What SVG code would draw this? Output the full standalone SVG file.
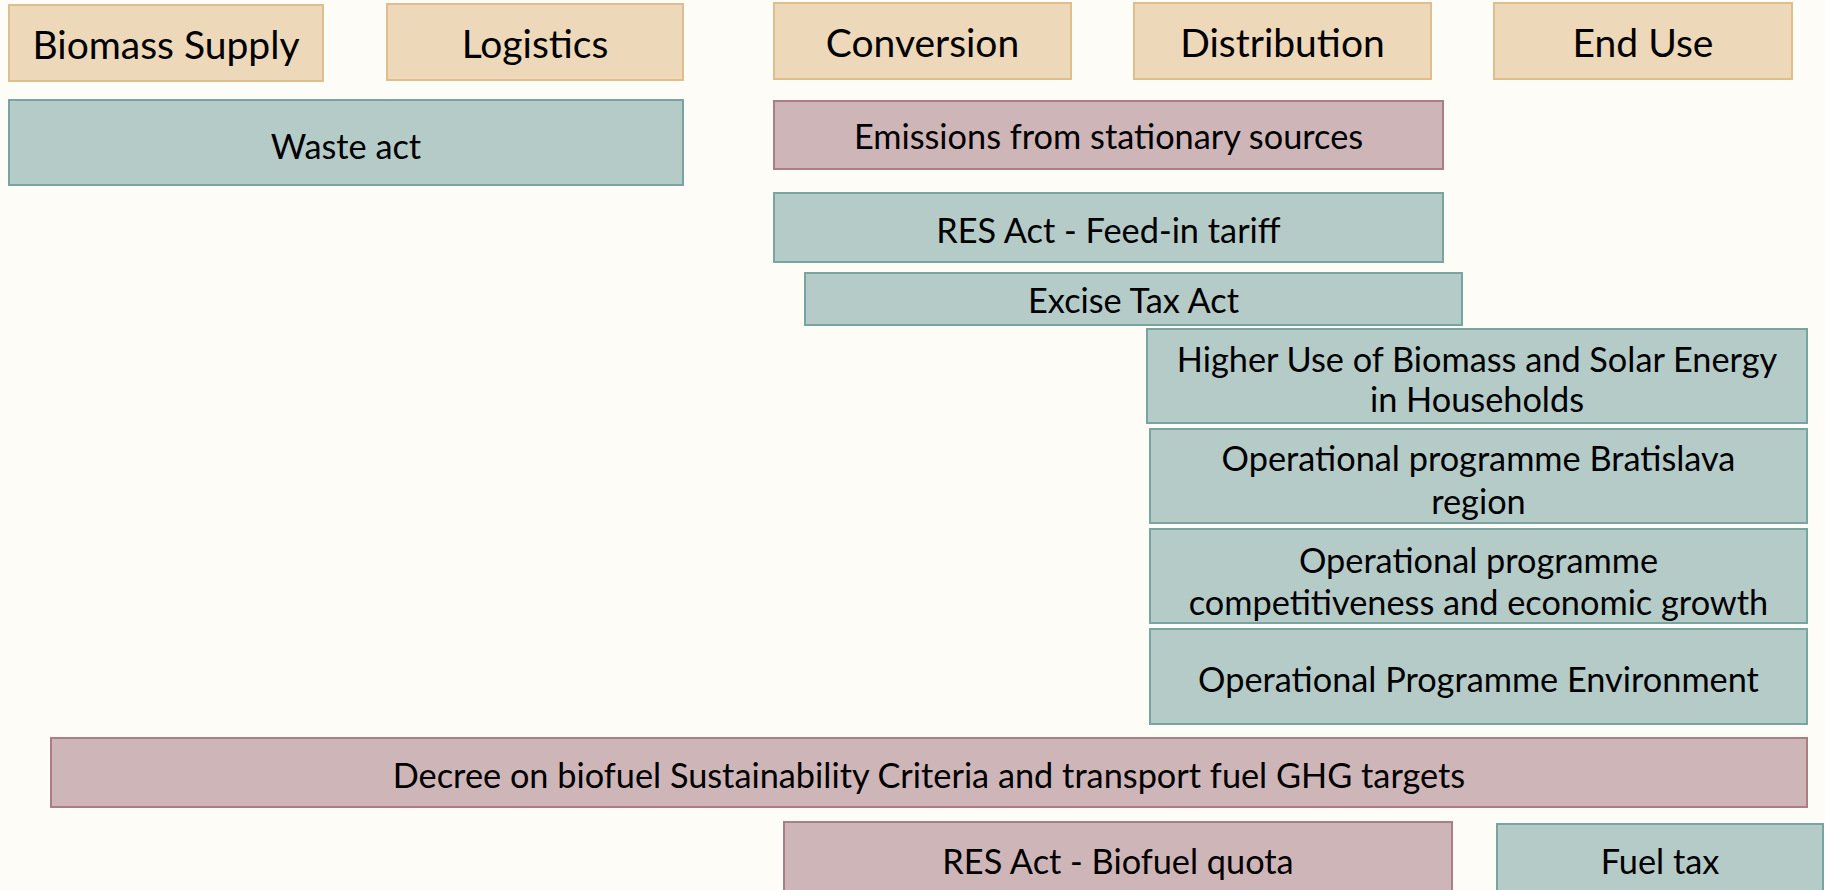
<svg xmlns="http://www.w3.org/2000/svg" width="1825" height="890" viewBox="0 0 1825 890">
<style>
.hd{fill:#EDD8BA;stroke:#DEBE8C;stroke-width:2}
.tl{fill:#B5CBC8;stroke:#78A5A0;stroke-width:2}
.mv{fill:#CEB5B7;stroke:#AC7D82;stroke-width:2}
text{font-family:Lato,"Liberation Sans",sans-serif;fill:#000;text-anchor:middle}
.ht{font-size:39px}
.bt{font-size:34.3px}
</style>
<rect x="0" y="0" width="1825" height="890" fill="#FDFCF7"/>
<g id="connectors"></g>
<g id="n-biomass"><rect class="hd" x="9" y="5" width="314" height="76"/><text class="ht" x="166" y="59">Biomass Supply</text></g>
<g id="n-logistics"><rect class="hd" x="387" y="4" width="296" height="76"/><text class="ht" x="535" y="57.5">Logistics</text></g>
<g id="n-conversion"><rect class="hd" x="774" y="3" width="297" height="76"/><text class="ht" x="922.5" y="57">Conversion</text></g>
<g id="n-distribution"><rect class="hd" x="1134" y="3" width="297" height="76"/><text class="ht" x="1282.5" y="57">Distribution</text></g>
<g id="n-enduse"><rect class="hd" x="1494" y="3" width="298" height="76"/><text class="ht" x="1643" y="57">End Use</text></g>
<g id="n-waste"><rect class="tl" x="9" y="100" width="674" height="85"/><text class="bt" x="346" y="159">Waste act</text></g>
<g id="n-emissions"><rect class="mv" x="774" y="101" width="669" height="68"/><text class="bt" x="1108.5" y="149">Emissions from stationary sources</text></g>
<g id="n-feedin"><rect class="tl" x="774" y="193" width="669" height="69"/><text class="bt" x="1108.5" y="242.5">RES Act - Feed-in tariff</text></g>
<g id="n-excise"><rect class="tl" x="805" y="273" width="657" height="52"/><text class="bt" x="1133.5" y="313">Excise Tax Act</text></g>
<g id="n-higheruse"><rect class="tl" x="1147" y="329" width="660" height="94"/><text class="bt" x="1477" y="371.5">Higher Use of Biomass and Solar Energy</text><text class="bt" x="1477" y="412">in Households</text></g>
<g id="n-bratislava"><rect class="tl" x="1150" y="429" width="657" height="94"/><text class="bt" x="1478.5" y="470.5">Operational programme Bratislava</text><text class="bt" x="1478.5" y="513.5">region</text></g>
<g id="n-competitiveness"><rect class="tl" x="1150" y="529" width="657" height="94"/><text class="bt" x="1478.5" y="573">Operational programme</text><text class="bt" x="1478.5" y="615">competitiveness and economic growth</text></g>
<g id="n-environment"><rect class="tl" x="1150" y="629" width="657" height="95"/><text class="bt" x="1478.5" y="691.5">Operational Programme Environment</text></g>
<g id="n-decree"><rect class="mv" x="51" y="738" width="1756" height="69"/><text class="bt" x="929" y="787.5">Decree on biofuel Sustainability Criteria and transport fuel GHG targets</text></g>
<g id="n-biofuelquota"><rect class="mv" x="784" y="822" width="668" height="80"/><text class="bt" x="1118" y="873.5">RES Act - Biofuel quota</text></g>
<g id="n-fueltax"><rect class="tl" x="1497" y="824" width="326" height="80"/><text class="bt" x="1660" y="873.5">Fuel tax</text></g>
</svg>
